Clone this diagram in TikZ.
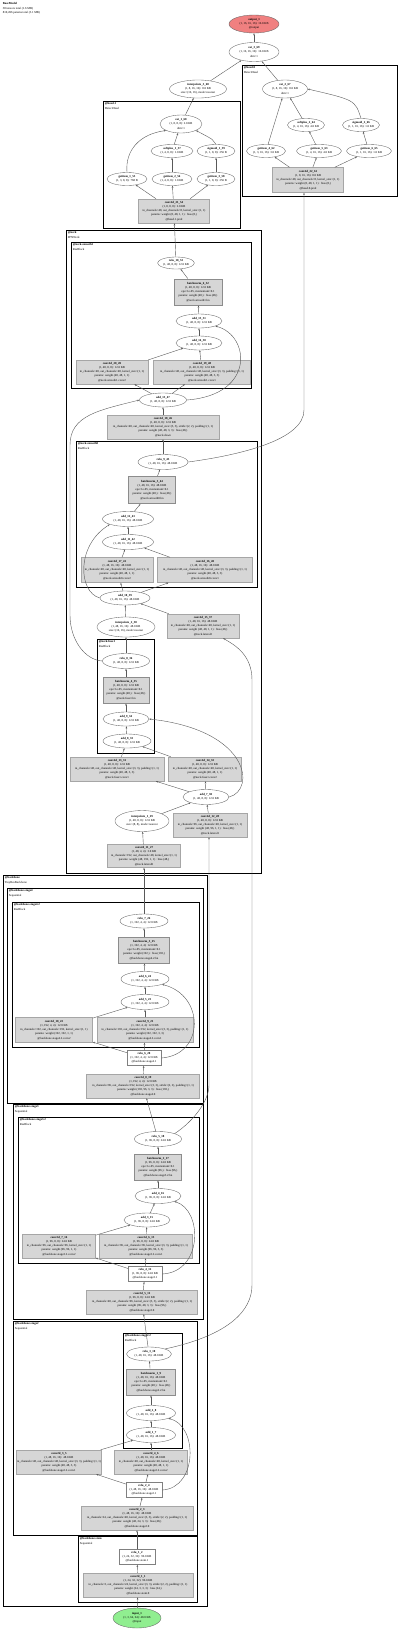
\documentclass[tikz,border=0pt]{standalone}
\usepackage{fontspec}
\setmainfont{Liberation Serif}
\usetikzlibrary{shapes.geometric,arrows.meta}
\definecolor{outred}{HTML}{F08080}
\definecolor{ingreen}{HTML}{90EE90}
\newcommand{\nodefont}{\fontsize{3}{4.2}\selectfont}
\tikzset{
  fn/.style 2 args={ellipse, draw=black!60, line width=0.35pt, fill=white, minimum width=#1, minimum height=#2, inner sep=0pt, align=center, font=\nodefont},
  mod/.style 2 args={rectangle, draw=black!35, fill=black!16, line width=0.5pt, minimum width=#1, minimum height=#2, inner sep=0pt},
  bnbox/.style 2 args={mod={#1}{#2}, draw=black!45, line width=1pt},
  act/.style 2 args={rectangle, draw=black!50, fill=white, line width=0.4pt, minimum width=#1, minimum height=#2, inner sep=0pt, align=center, font=\nodefont},
  txt/.style={align=center, font=\nodefont, inner sep=0pt},
  grp/.style={draw=black, line width=0.9pt},
  grplbl/.style={anchor=north west, align=left, font=\nodefont, inner sep=0pt, xshift=1.6pt, yshift=-1.6pt},
  flow/.style={draw=black!65, line width=0.4pt, -{Stealth[length=2.2pt,width=1.6pt]}},
}
\begin{document}
\begin{tikzpicture}[x=1pt,y=-1pt]
\useasboundingbox (0,0) rectangle (400,1631);
% title
\node[grplbl] (title) at (1,1) {\textbf{BaseModel}\\38 tensors total (1.6 MB)\\810,496 params total (3.1 MB)};
% clusters
\draw[grp] (103,101) rectangle (240,228);
\node[grplbl] at (103,101) {\textbf{@head.1}\\DetectHead};
\draw[grp] (242,65) rectangle (397,196);
\node[grplbl] at (242,65) {\textbf{@head.0}\\DetectHead};
\draw[grp] (66,230) rectangle (261,873);
\node[grplbl] at (66,230) {\textbf{@neck}\\FPNNeck};
\draw[grp] (71,242) rectangle (251,388);
\node[grplbl] at (71,242) {\textbf{@neck.smooth1}\\ResBlock};
\draw[grp] (76,441) rectangle (257,587);
\node[grplbl] at (76,441) {\textbf{@neck.smooth0}\\ResBlock};
\draw[grp] (97,639) rectangle (154,753);
\node[grplbl] at (97,639) {\textbf{@neck.fuse1}\\ResBlock};
\draw[grp] (3,875) rectangle (207,1606);
\node[grplbl] at (3,875) {\textbf{@backbone}\\TinyResBackbone};
\draw[grp] (7,888) rectangle (203,1103);
\node[grplbl] at (7,888) {\textbf{@backbone.stage4}\\Sequential};
\draw[grp] (12,902) rectangle (199,1047);
\node[grplbl] at (12,902) {\textbf{@backbone.stage4.2}\\ResBlock};
\draw[grp] (13,1104) rectangle (203,1319);
\node[grplbl] at (13,1104) {\textbf{@backbone.stage3}\\Sequential};
\draw[grp] (18,1117) rectangle (199,1263);
\node[grplbl] at (18,1117) {\textbf{@backbone.stage3.2}\\ResBlock};
\draw[grp] (13,1321) rectangle (197,1535);
\node[grplbl] at (13,1321) {\textbf{@backbone.stage2}\\Sequential};
\draw[grp] (123,1333) rectangle (182,1448);
\node[grplbl] at (123,1333) {\textbf{@backbone.stage2.2}\\ResBlock};
\draw[grp] (78,1536) rectangle (197,1602);
\node[grplbl] at (78,1536) {\textbf{@backbone.stem}\\Sequential};
% output and heads
\node[fn={50}{18}, fill=outred] (out) at (254,24) {\textbf{output\_1}\\(1, 16, 16, 16): 16.0 KB\\@output};
\node[fn={50}{19}] (cat3) at (254,52) {\textbf{cat\_3\_69}\\(1, 16, 16, 16): 16.0 KB\\dim=1};
\node[fn={57}{18}] (interp3) at (198,89) {\textbf{interpolate\_3\_68}\\(1, 8, 16, 16): 8.0 KB\\size=(16, 16), mode=nearest};
\node[fn={42}{18}] (cat1) at (181,124) {\textbf{cat\_1\_60}\\(1, 8, 8, 8): 2.0 KB\\dim=1};
\node[fn={42}{13}] (soft1) at (172,151) {\textbf{softplus\_1\_57}\\(1, 4, 8, 8): 1.0 KB};
\node[fn={38}{13}] (sig1) at (216,151) {\textbf{sigmoid\_1\_59}\\(1, 1, 8, 8): 256 B};
\node[fn={40}{13}] (get1) at (127,179) {\textbf{getitem\_1\_55}\\(1, 3, 8, 8): 768 B};
\node[fn={40}{13}] (get2) at (172,179) {\textbf{getitem\_2\_56}\\(1, 4, 8, 8): 1.0 KB};
\node[fn={38}{13}] (get3) at (216,179) {\textbf{getitem\_3\_58}\\(1, 1, 8, 8): 256 B};
\node[mod={71}{24}, label={[txt]center:{\textbf{conv2d\_21\_54}\\(1, 8, 8, 8): 2.0 KB\\in\_channels=48, out\_channels=8, kernel\_size=(1, 1)\\params: weight (8, 48, 1, 1) · bias (8,)\\@head.1.pred}}] (conv21) at (174,211) {};
\node[fn={45}{18}] (cat2) at (285,89) {\textbf{cat\_2\_67}\\(1, 8, 16, 16): 8.0 KB\\dim=1};
\node[fn={37}{13}] (soft2) at (306,125) {\textbf{softplus\_2\_64}\\(1, 4, 16, 16): 4.0 KB};
\node[fn={37}{13}] (sig2) at (361,125) {\textbf{sigmoid\_2\_66}\\(1, 1, 16, 16): 1.0 KB};
\node[fn={39}{13}] (get4) at (266,151) {\textbf{getitem\_4\_62}\\(1, 3, 16, 16): 3.0 KB};
\node[fn={45}{13}] (get5) at (319,151) {\textbf{getitem\_5\_63}\\(1, 4, 16, 16): 4.0 KB};
\node[fn={45}{13}] (get6) at (369,151) {\textbf{getitem\_6\_65}\\(1, 1, 16, 16): 1.0 KB};
\node[mod={71}{25}, label={[txt]center:{\textbf{conv2d\_22\_61}\\(1, 8, 16, 16): 8.0 KB\\in\_channels=48, out\_channels=8, kernel\_size=(1, 1)\\params: weight (8, 48, 1, 1) · bias (8,)\\@head.0.pred}}] (conv22) at (308,180) {};
% neck
\node[fn={36}{12}] (relu10) at (176,263) {\textbf{relu\_10\_53}\\(1, 48, 8, 8): 12.0 KB};
\node[bnbox={48}{26}, label={[txt]center:{\textbf{batchnorm\_6\_52}\\(1, 48, 8, 8): 12.0 KB\\eps=1e-05, momentum=0.1\\params: weight (48,) · bias (48,)\\@neck.smooth1.bn}}] (bn6) at (198,292) {};
\node[fn={46}{14}] (add15) at (199,321) {\textbf{add\_15\_51}\\(1, 48, 8, 8): 12.0 KB};
\node[fn={46}{14}] (add14) at (199,343) {\textbf{add\_14\_50}\\(1, 48, 8, 8): 12.0 KB};
\node[mod={72}{24}, label={[txt]center:{\textbf{conv2d\_20\_49}\\(1, 48, 8, 8): 12.0 KB\\in\_channels=48, out\_channels=48, kernel\_size=(1, 1)\\params: weight (48, 48, 1, 1)\\@neck.smooth1.conv2}}] (conv20) at (112,372) {};
\node[mod={97}{24}, label={[txt]center:{\textbf{conv2d\_19\_48}\\(1, 48, 8, 8): 12.0 KB\\in\_channels=48, out\_channels=48, kernel\_size=(3, 3), padding=(1, 1)\\params: weight (48, 48, 3, 3)\\@neck.smooth1.conv1}}] (conv19) at (202,372) {};
\node[fn={47}{14}] (add13) at (163,400) {\textbf{add\_13\_47}\\(1, 48, 8, 8): 12.0 KB};
\node[mod={112}{24}, label={[txt]center:{\textbf{conv2d\_18\_46}\\(1, 48, 8, 8): 12.0 KB\\in\_channels=48, out\_channels=48, kernel\_size=(3, 3), stride=(2, 2), padding=(1, 1)\\params: weight (48, 48, 3, 3) · bias (48,)\\@neck.down}}] (conv18) at (163,427) {};
\node[fn={50}{15}] (relu9) at (163,462) {\textbf{relu\_9\_45}\\(1, 48, 16, 16): 48.0 KB};
\node[bnbox={47}{27}, label={[txt]center:{\textbf{batchnorm\_5\_44}\\(1, 48, 16, 16): 48.0 KB\\eps=1e-05, momentum=0.1\\params: weight (48,) · bias (48,)\\@neck.smooth0.bn}}] (bn5) at (152,490) {};
\node[fn={51}{15}] (add12) at (128,519) {\textbf{add\_12\_43}\\(1, 48, 16, 16): 48.0 KB};
\node[fn={51}{15}] (add11) at (128,542) {\textbf{add\_11\_42}\\(1, 48, 16, 16): 48.0 KB};
\node[mod={72}{25}, label={[txt]center:{\textbf{conv2d\_17\_41}\\(1, 48, 16, 16): 48.0 KB\\in\_channels=48, out\_channels=48, kernel\_size=(1, 1)\\params: weight (48, 48, 1, 1)\\@neck.smooth0.conv2}}] (conv17) at (117,570) {};
\node[mod={95}{25}, label={[txt]center:{\textbf{conv2d\_16\_40}\\(1, 48, 16, 16): 48.0 KB\\in\_channels=48, out\_channels=48, kernel\_size=(3, 3), padding=(1, 1)\\params: weight (48, 48, 3, 3)\\@neck.smooth0.conv1}}] (conv16) at (205,570) {};
\node[fn={50}{14}] (add10) at (125,598) {\textbf{add\_10\_39}\\(1, 48, 16, 16): 48.0 KB};
\node[fn={58}{20}] (interp2) at (126,627) {\textbf{interpolate\_2\_38}\\(1, 48, 16, 16): 48.0 KB\\size=(16, 16), mode=nearest};
\node[mod={72}{24}, label={[txt]center:{\textbf{conv2d\_15\_37}\\(1, 48, 16, 16): 48.0 KB\\in\_channels=48, out\_channels=48, kernel\_size=(1, 1)\\params: weight (48, 48, 1, 1) · bias (48,)\\@neck.lateral2}}] (conv15) at (203,626) {};
\node[fn={47}{15}] (relu8) at (126,661) {\textbf{relu\_8\_36}\\(1, 48, 8, 8): 12.0 KB};
\node[bnbox={46}{26}, label={[txt]center:{\textbf{batchnorm\_4\_35}\\(1, 48, 8, 8): 12.0 KB\\eps=1e-05, momentum=0.1\\params: weight (48,) · bias (48,)\\@neck.fuse1.bn}}] (bn4) at (126,690) {};
\node[fn={46}{14}] (add9) at (126,719) {\textbf{add\_9\_34}\\(1, 48, 8, 8): 12.0 KB};
\node[fn={48}{14}] (add8) at (127,741) {\textbf{add\_8\_33}\\(1, 48, 8, 8): 12.0 KB};
\node[mod={94}{24}, label={[txt]center:{\textbf{conv2d\_13\_31}\\(1, 48, 8, 8): 12.0 KB\\in\_channels=48, out\_channels=48, kernel\_size=(3, 3), padding=(1, 1)\\params: weight (48, 48, 3, 3)\\@neck.fuse1.conv1}}] (conv13) at (117,769) {};
\node[mod={73}{24}, label={[txt]center:{\textbf{conv2d\_14\_32}\\(1, 48, 8, 8): 12.0 KB\\in\_channels=48, out\_channels=48, kernel\_size=(1, 1)\\params: weight (48, 48, 1, 1)\\@neck.fuse1.conv2}}] (conv14) at (205,769) {};
\node[fn={46}{15}] (add7) at (206,797) {\textbf{add\_7\_30}\\(1, 48, 8, 8): 12.0 KB};
\node[fn={54}{21}] (interp1) at (142,821) {\textbf{interpolate\_1\_29}\\(1, 48, 8, 8): 12.0 KB\\size=(8, 8), mode=nearest};
\node[mod={74}{24}, label={[txt]center:{\textbf{conv2d\_12\_28}\\(1, 48, 8, 8): 12.0 KB\\in\_channels=96, out\_channels=48, kernel\_size=(1, 1)\\params: weight (48, 96, 1, 1) · bias (48,)\\@neck.lateral1}}] (conv12) at (210,825) {};
\node[mod={73}{23}, label={[txt]center:{\textbf{conv2d\_11\_27}\\(1, 48, 4, 4): 3.0 KB\\in\_channels=192, out\_channels=48, kernel\_size=(1, 1)\\params: weight (48, 192, 1, 1) · bias (48,)\\@neck.lateral0}}] (conv11) at (144,856) {};
% backbone stage4
\node[fn={48}{14}] (relu7) at (144,921) {\textbf{relu\_7\_26}\\(1, 192, 4, 4): 12.0 KB};
\node[bnbox={51}{26}, label={[txt]center:{\textbf{batchnorm\_3\_25}\\(1, 192, 4, 4): 12.0 KB\\eps=1e-05, momentum=0.1\\params: weight (192,) · bias (192,)\\@backbone.stage4.2.bn}}] (bn3) at (144,950) {};
\node[fn={48}{15}] (add6) at (145,979) {\textbf{add\_6\_24}\\(1, 192, 4, 4): 12.0 KB};
\node[fn={48}{15}] (add5) at (145,1002) {\textbf{add\_5\_23}\\(1, 192, 4, 4): 12.0 KB};
\node[mod={77}{25}, label={[txt]center:{\textbf{conv2d\_10\_22}\\(1, 192, 4, 4): 12.0 KB\\in\_channels=192, out\_channels=192, kernel\_size=(1, 1)\\params: weight (192, 192, 1, 1)\\@backbone.stage4.2.conv2}}] (conv10) at (54,1030) {};
\node[mod={96}{25}, label={[txt]center:{\textbf{conv2d\_9\_21}\\(1, 192, 4, 4): 12.0 KB\\in\_channels=192, out\_channels=192, kernel\_size=(3, 3), padding=(1, 1)\\params: weight (192, 192, 3, 3)\\@backbone.stage4.2.conv1}}] (conv9) at (145,1030) {};
\node[act={34}{15}] (relu6) at (144,1058) {\textbf{relu\_6\_20}\\(1, 192, 4, 4): 12.0 KB\\@backbone.stage4.1};
\node[mod={113}{24}, label={[txt]center:{\textbf{conv2d\_8\_19}\\(1, 192, 4, 4): 12.0 KB\\in\_channels=96, out\_channels=192, kernel\_size=(3, 3), stride=(2, 2), padding=(1, 1)\\params: weight (192, 96, 3, 3) · bias (192,)\\@backbone.stage4.0}}] (conv8) at (143,1086) {};
% backbone stage3
\node[fn={47}{15}] (relu5) at (158,1139) {\textbf{relu\_5\_18}\\(1, 96, 8, 8): 24.0 KB};
\node[bnbox={47}{26}, label={[txt]center:{\textbf{batchnorm\_2\_17}\\(1, 96, 8, 8): 24.0 KB\\eps=1e-05, momentum=0.1\\params: weight (96,) · bias (96,)\\@backbone.stage3.2.bn}}] (bn2) at (158,1167) {};
\node[fn={46}{15}] (add4) at (158,1196) {\textbf{add\_4\_16}\\(1, 96, 8, 8): 24.0 KB};
\node[fn={46}{14}] (add3) at (147,1220) {\textbf{add\_3\_15}\\(1, 96, 8, 8): 24.0 KB};
\node[mod={73}{24}, label={[txt]center:{\textbf{conv2d\_7\_14}\\(1, 96, 8, 8): 24.0 KB\\in\_channels=96, out\_channels=96, kernel\_size=(1, 1)\\params: weight (96, 96, 1, 1)\\@backbone.stage3.2.conv2}}] (conv7) at (59,1246) {};
\node[mod={93}{24}, label={[txt]center:{\textbf{conv2d\_6\_13}\\(1, 96, 8, 8): 24.0 KB\\in\_channels=96, out\_channels=96, kernel\_size=(3, 3), padding=(1, 1)\\params: weight (96, 96, 3, 3)\\@backbone.stage3.2.conv1}}] (conv6) at (146,1246) {};
\node[act={34}{15}] (relu4) at (145,1274) {\textbf{relu\_4\_12}\\(1, 96, 8, 8): 24.0 KB\\@backbone.stage3.1};
\node[mod={111}{24}, label={[txt]center:{\textbf{conv2d\_5\_11}\\(1, 96, 8, 8): 24.0 KB\\in\_channels=48, out\_channels=96, kernel\_size=(3, 3), stride=(2, 2), padding=(1, 1)\\params: weight (96, 48, 3, 3) · bias (96,)\\@backbone.stage3.0}}] (conv5) at (142,1302) {};
% backbone stage2
\node[fn={45}{14}] (relu3) at (149,1354) {\textbf{relu\_3\_10}\\(1, 48, 16, 16): 48.0 KB};
\node[bnbox={49}{26}, label={[txt]center:{\textbf{batchnorm\_1\_9}\\(1, 48, 16, 16): 48.0 KB\\eps=1e-05, momentum=0.1\\params: weight (48,) · bias (48,)\\@backbone.stage2.2.bn}}] (bn1) at (151,1382) {};
\node[fn={49}{15}] (add2) at (151,1413) {\textbf{add\_2\_8}\\(1, 48, 16, 16): 48.0 KB};
\node[fn={49}{15}] (add1) at (151,1435) {\textbf{add\_1\_7}\\(1, 48, 16, 16): 48.0 KB};
\node[mod={85}{24}, label={[txt]center:{\textbf{conv2d\_3\_5}\\(1, 48, 16, 16): 48.0 KB\\in\_channels=48, out\_channels=48, kernel\_size=(3, 3), padding=(1, 1)\\params: weight (48, 48, 3, 3)\\@backbone.stage2.2.conv1}}] (conv3) at (59,1462) {};
\node[mod={73}{24}, label={[txt]center:{\textbf{conv2d\_4\_6}\\(1, 48, 16, 16): 48.0 KB\\in\_channels=48, out\_channels=48, kernel\_size=(1, 1)\\params: weight (48, 48, 1, 1)\\@backbone.stage2.2.conv2}}] (conv4) at (151,1462) {};
\node[act={36}{15}] (relu2) at (144,1490) {\textbf{relu\_2\_4}\\(1, 48, 16, 16): 48.0 KB\\@backbone.stage2.1};
\node[mod={112}{24}, label={[txt]center:{\textbf{conv2d\_2\_3}\\(1, 48, 16, 16): 48.0 KB\\in\_channels=24, out\_channels=48, kernel\_size=(3, 3), stride=(2, 2), padding=(1, 1)\\params: weight (48, 24, 3, 3) · bias (48,)\\@backbone.stage2.0}}] (conv2) at (137,1518) {};
% stem and input
\node[act={36}{15}] (relu1) at (137,1557) {\textbf{relu\_1\_2}\\(1, 24, 32, 32): 96.0 KB\\@backbone.stem.1};
\node[mod={110}{24}, label={[txt]center:{\textbf{conv2d\_1\_1}\\(1, 24, 32, 32): 96.0 KB\\in\_channels=3, out\_channels=24, kernel\_size=(3, 3), stride=(2, 2), padding=(1, 1)\\params: weight (24, 3, 3, 3) · bias (24,)\\@backbone.stem.0}}] (conv1) at (138,1585) {};
\node[fn={48}{20}, fill=ingreen] (in) at (137,1618) {\textbf{input\_1}\\(1, 3, 64, 64): 48.0 KB\\@input};
% waypoints
\coordinate (r9up) at (304,410);
\coordinate (r5up) at (209,1085);
\coordinate (r3a) at (252,1285);
\coordinate (r3b) at (252,680);
\coordinate (r8a) at (70,615);
\coordinate (r8b) at (70,445);
% edges backbone
\draw[flow] (in) -- (conv1);
\draw[flow] (conv1) -- (relu1);
\draw[flow] (relu1) -- (conv2);
\draw[flow] (conv2) -- (relu2);
\draw[flow] (relu2) -- (conv3);
\draw[flow] (relu2) -- (conv4);
\draw[flow] (relu2.east) .. controls (198,1488) and (198,1425) .. (add2.south east);
\draw[flow] (conv3) -- (add1);
\draw[flow] (conv4) -- (add1);
\draw[flow] (add1) -- (add2);
\draw[flow] (add2) -- (bn1);
\draw[flow] (bn1) -- (relu3);
\draw[flow] (relu3) -- (conv5);
\draw[flow] (relu3.north east) .. controls (230,1335) and (252,1310) .. (r3a) -- (r3b) .. controls (252,655) and (235,645) .. ([xshift=20pt]conv15.south);
\draw[flow] (conv5) -- (relu4);
\draw[flow] (relu4) -- (conv7);
\draw[flow] (relu4) -- (conv6);
\draw[flow] (relu4.east) .. controls (203,1272) and (203,1210) .. (add4.south east);
\draw[flow] (conv7) -- (add3);
\draw[flow] (conv6) -- (add3);
\draw[flow] (add3) -- (add4);
\draw[flow] (add4) -- (bn2);
\draw[flow] (bn2) -- (relu5);
\draw[flow] (relu5) -- (conv8);
\draw[flow] (relu5.north east) .. controls (195,1120) and (209,1100) .. (r5up) -- (r5up |- conv12.south);
\draw[flow] (conv8) -- (relu6);
\draw[flow] (relu6) -- (conv10);
\draw[flow] (relu6) -- (conv9);
\draw[flow] (relu6.east) .. controls (205,1055) and (205,995) .. (add6.south east);
\draw[flow] (conv10) -- (add5);
\draw[flow] (conv9) -- (add5);
\draw[flow] (add5) -- (add6);
\draw[flow] (add6) -- (bn3);
\draw[flow] (bn3) -- (relu7);
\draw[flow] (relu7) -- (conv11);
% edges neck
\draw[flow] (conv11) -- (interp1);
\draw[flow] (interp1) -- (add7);
\draw[flow] (conv12) -- (add7);
\draw[flow] (add7) -- (conv13);
\draw[flow] (add7) -- (conv14);
\draw[flow] (add7.east) .. controls (256,790) and (250,730) .. (add9.east);
\draw[flow] (conv13) -- (add8);
\draw[flow] (conv14) -- (add8);
\draw[flow] (add8) -- (add9);
\draw[flow] (add9) -- (bn4);
\draw[flow] (bn4) -- (relu8);
\draw[flow] (relu8) -- (interp2);
\draw[flow] (relu8.west) .. controls (85,660) and (70,640) .. (r8a) -- (r8b) .. controls (70,415) and (100,410) .. (add13.west);
\draw[flow] (interp2) -- (add10);
\draw[flow] (conv15) -- (add10);
\draw[flow] (add10) -- (conv17);
\draw[flow] (add10) -- (conv16);
\draw[flow] (add10.west) .. controls (78,592) and (76,545) .. (add12.south west);
\draw[flow] (conv17) -- (add11);
\draw[flow] (conv16) -- (add11);
\draw[flow] (add11) -- (add12);
\draw[flow] (add12) -- (bn5);
\draw[flow] (bn5) -- (relu9);
\draw[flow] (relu9) -- (conv18);
\draw[flow] (relu9.east) .. controls (240,455) and (304,440) .. (r9up) -- (r9up |- conv22.south);
\draw[flow] (conv18) -- (add13);
\draw[flow] (add13) -- (conv20);
\draw[flow] (add13) -- (conv19);
\draw[flow] (add13.east) .. controls (256,395) and (250,335) .. (add15.south east);
\draw[flow] (conv20) -- (add14);
\draw[flow] (conv19) -- (add14);
\draw[flow] (add14) -- (add15);
\draw[flow] (add15) -- (bn6);
\draw[flow] (bn6) -- (relu10);
\draw[flow] (relu10) -- (conv21);
% edges heads
\draw[flow] (conv21) -- (get1);
\draw[flow] (conv21) -- (get2);
\draw[flow] (conv21) -- (get3);
\draw[flow] (get1.north) .. controls (125,150) and (140,134) .. (cat1.south west);
\draw[flow] (get2) -- (soft1);
\draw[flow] (get3) -- (sig1);
\draw[flow] (soft1) -- (cat1);
\draw[flow] (sig1.north) .. controls (214,140) .. (cat1.south east);
\draw[flow] (conv22) -- (get4);
\draw[flow] (conv22) -- (get5);
\draw[flow] (conv22) -- (get6);
\draw[flow] (get4) -- (cat2);
\draw[flow] (get5) -- (soft2);
\draw[flow] (get6) -- (sig2);
\draw[flow] (soft2) -- (cat2);
\draw[flow] (sig2.north) .. controls (355,100) .. (cat2.east);
\draw[flow] (cat1) -- (interp3);
\draw[flow] (interp3) -- (cat3);
\draw[flow] (cat2) -- (cat3);
\draw[flow] (cat3) -- (out);
\end{tikzpicture}
\end{document}
